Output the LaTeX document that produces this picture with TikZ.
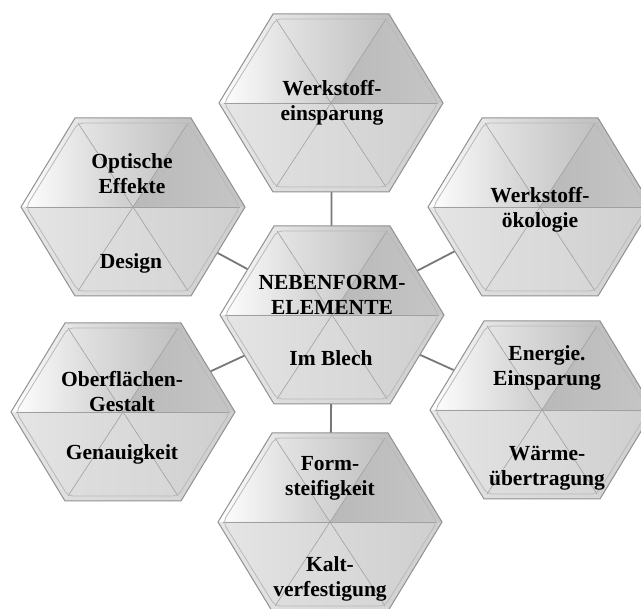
\documentclass[tikz,border=0pt]{standalone}
\usepackage{fontspec}
\setmainfont{Liberation Serif}
\usetikzlibrary{positioning}
\definecolor{hexedge}{RGB}{145,145,145}
\definecolor{hexlink}{RGB}{120,120,120}

\tikzset{
  link/.style={draw=hexlink, line width=1.8pt},
  spoke/.style={draw=gray!75, line width=0.6pt},
  hexlabel/.style={align=center, inner sep=0pt, font=\fontsize{21.5}{25}\selectfont\bfseries},
}

% one bevelled hexagon around a named centre
\newcommand{\hexcell}[1]{%
  \begin{scope}[shift={(#1)}]
    \shade[left color=white, right color=gray!40] (0,0) -- (-112,0) -- (-58,-89) -- cycle;
    \shade[left color=gray!20, right color=gray!50] (0,0) -- (-58,-89) -- (58,-89) -- cycle;
    \shade[left color=gray!55, right color=gray!45] (0,0) -- (58,-89) -- (112,0) -- cycle;
    \shade[left color=gray!30, right color=gray!38] (0,0) -- (112,0) -- (58,89) -- cycle;
    \shade[left color=gray!26, right color=gray!32] (0,0) -- (58,89) -- (-58,89) -- cycle;
    \shade[left color=gray!20, right color=gray!30] (0,0) -- (-58,89) -- (-112,0) -- cycle;
    \draw[spoke] (-107,0) -- (107,0);
    \draw[spoke] (-55,-84) -- (55,84);
    \draw[spoke] (55,-84) -- (-55,84);
    \draw[draw=gray!55, line width=0.8pt, rounded corners=5pt]
      (-107,0) -- (-55,-84) -- (55,-84) -- (107,0) -- (55,84) -- (-55,84) -- cycle;
    \draw[draw=hexedge, line width=1pt]
      (-112,0) -- (-58,-89) -- (58,-89) -- (112,0) -- (58,89) -- (-58,89) -- cycle;
  \end{scope}}

\begin{document}
\begin{tikzpicture}[x=1pt, y=-1pt]
  \fill[white] (0,0) rectangle (641,609);
  \useasboundingbox (0,0) rectangle (641,609);

  \coordinate (hC) at (332,315);
  \coordinate (hT) at (331,103);
  \coordinate (hB) at (330,522);
  \coordinate (hUL) at (133,207);
  \coordinate (hUR) at (540,207);
  \coordinate (hLL) at (123,412);
  \coordinate (hLR) at (542,410);

  \draw[link] (hC) -- (hT);
  \draw[link] (hC) -- (hB);
  \draw[link] (hC) -- (hUL);
  \draw[link] (hC) -- (hUR);
  \draw[link] (hC) -- (hLL);
  \draw[link] (hC) -- (hLR);

  \hexcell{hT}
  \hexcell{hUL}
  \hexcell{hUR}
  \hexcell{hC}
  \hexcell{hLL}
  \hexcell{hLR}
  \hexcell{hB}

  \node[hexlabel] (hT-top) at (332,103) {Werkstoff-\\einsparung};
  \node[hexlabel] (hC-top) at (332,295) {NEBENFORM-\\ELEMENTE};
  \node[hexlabel] (hC-bot) at (331,358) {Im Blech};
  \node[hexlabel] (hUL-top) at (132,174) {Optische\\Effekte};
  \node[hexlabel] (hUL-bot) at (131,263) {Design};
  \node[hexlabel] (hUR-top) at (540,210) {Werkstoff-\\ökologie};
  \node[hexlabel] (hLL-top) at (122,392) {Oberflächen-\\Gestalt};
  \node[hexlabel] (hLL-bot) at (122,454) {Genauigkeit};
  \node[hexlabel] (hLR-top) at (547,368) {Energie.\\Einsparung};
  \node[hexlabel] (hLR-bot) at (547,468) {Wärme-\\übertragung};
  \node[hexlabel] (hB-top) at (330,478) {Form-\\steifigkeit};
  \node[hexlabel] (hB-bot) at (330,579) {Kalt-\\verfestigung};
\end{tikzpicture}
\end{document}
